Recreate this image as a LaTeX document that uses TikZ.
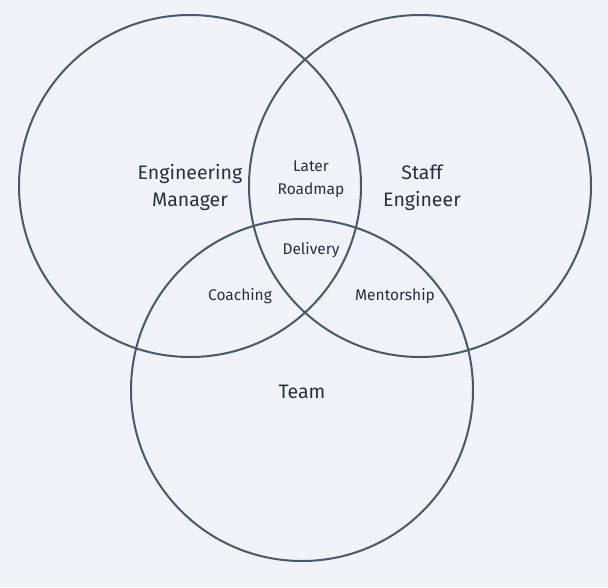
\documentclass[tikz,border=0pt]{standalone}
\usepackage{fontspec}
\setmainfont{Fira Sans}
\definecolor{bg}{HTML}{F0F4F8}
\definecolor{ln}{HTML}{4A5868}
\definecolor{tx}{HTML}{26303E}
\begin{document}
\begin{tikzpicture}[x=1pt,y=-1pt,
  ring/.style={circle,draw=ln,line width=2pt,minimum size=342pt,inner sep=0pt},
  big/.style={text=tx,font=\fontsize{19.5}{27}\selectfont,align=center},
  small/.style={text=tx,font=\fontsize{15.5}{23}\selectfont,align=center}]
\fill[bg] (0,0) rectangle (608,587);
\useasboundingbox (0,0) rectangle (608,587);
\node[ring] (em) at (190,186) {};
\node[ring] (se) at (420,186) {};
\node[ring] (tm) at (302,390) {};
\node[big] (emt) at (190,187.5) {Engineering\\Manager};
\node[big] (set) at (422,187.5) {Staff\\Engineer};
\node[big] (tmt) at (302,391.5) {Team};
\node[small] (lr) at (311,179.5) {Later\\Roadmap};
\node[small] (dl) at (311,250.5) {Delivery};
\node[small] (co) at (240,296.5) {Coaching};
\node[small] (me) at (395,296.5) {Mentorship};
\end{tikzpicture}
\end{document}
